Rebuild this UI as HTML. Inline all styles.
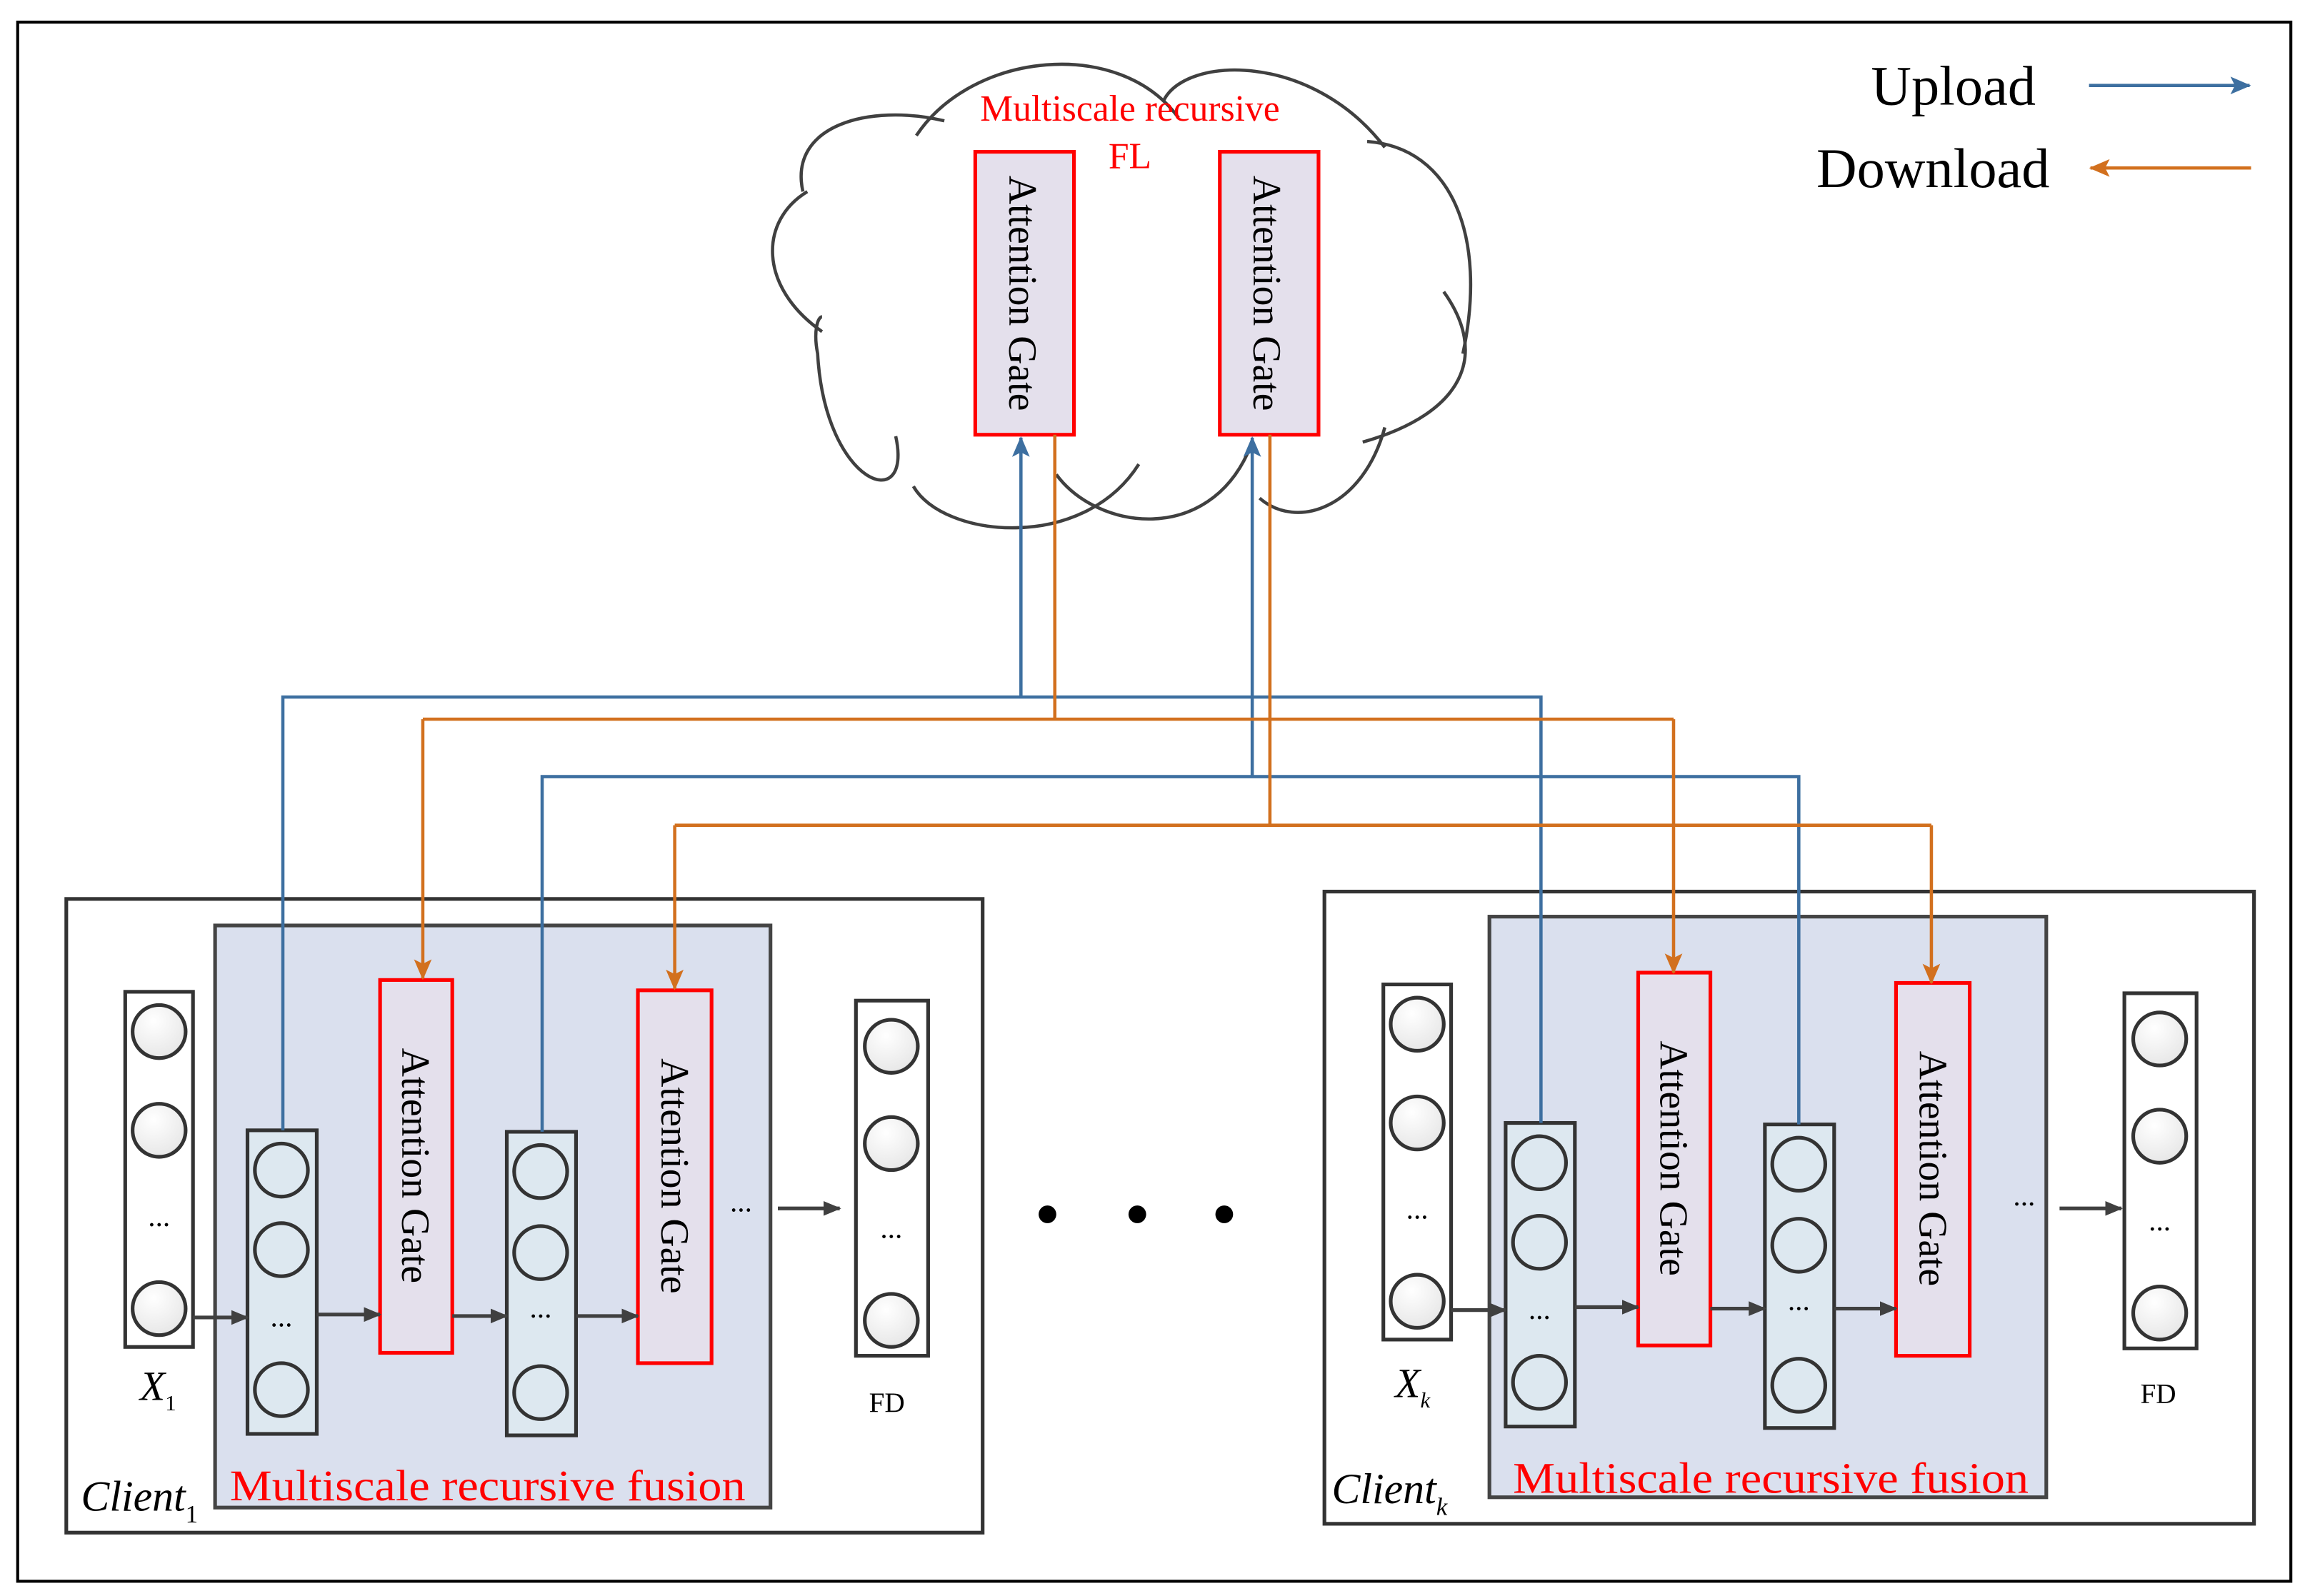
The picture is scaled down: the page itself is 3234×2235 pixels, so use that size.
<!DOCTYPE html>
<html><head><meta charset="utf-8"><style>
html,body{margin:0;padding:0;background:#fff}
svg{display:block}
text{font-family:"Liberation Serif",serif}
</style></head><body>
<svg width="3234" height="2235" viewBox="0 0 1568 1083" preserveAspectRatio="none" xmlns="http://www.w3.org/2000/svg">
<defs>
<marker id="ab" markerWidth="14" markerHeight="12" refX="13" refY="6" orient="auto" markerUnits="userSpaceOnUse"><path d="M0,0 L14,6 L0,12 L3,6 Z" fill="#3d6fa0"/></marker>
<marker id="ao" markerWidth="14" markerHeight="12" refX="13" refY="6" orient="auto" markerUnits="userSpaceOnUse"><path d="M0,0 L14,6 L0,12 L3,6 Z" fill="#d2701e"/></marker>
<marker id="ak" markerWidth="12" markerHeight="12" refX="11" refY="6" orient="auto" markerUnits="userSpaceOnUse"><path d="M0,1 L12,6 L0,11 Z" fill="#404040"/></marker>
<radialGradient id="cg" cx="0.4" cy="0.3" r="0.8"><stop offset="0" stop-color="#fff"/><stop offset="1" stop-color="#e4e4e4"/></radialGradient>
<g id="client">
  <rect x="85" y="673" width="46" height="241" fill="#fff" stroke="#333" stroke-width="2.5"/>
  <circle cx="108" cy="700" r="18" fill="url(#cg)" stroke="#333" stroke-width="2.5"/>
  <circle cx="108" cy="767" r="18" fill="url(#cg)" stroke="#333" stroke-width="2.5"/>
  <circle cx="108" cy="888" r="18" fill="url(#cg)" stroke="#333" stroke-width="2.5"/>
  <text x="108" y="832" font-size="20" text-anchor="middle">...</text>
  <rect x="168" y="767" width="47" height="206" fill="#dde8f0" stroke="#333" stroke-width="2.5"/>
  <circle cx="191" cy="794" r="18" fill="#dde8f0" stroke="#333" stroke-width="2.5"/>
  <circle cx="191" cy="848" r="18" fill="#dde8f0" stroke="#333" stroke-width="2.5"/>
  <circle cx="191" cy="943" r="18" fill="#dde8f0" stroke="#333" stroke-width="2.5"/>
  <text x="191" y="900" font-size="20" text-anchor="middle">...</text>
  <rect x="258" y="665" width="49" height="253" fill="#e4e0ec" stroke="#f00" stroke-width="2.5"/>
  <text transform="translate(273,791) rotate(90)" font-size="27" text-anchor="middle">Attention Gate</text>
  <rect x="344" y="768" width="47" height="206" fill="#dde8f0" stroke="#333" stroke-width="2.5"/>
  <circle cx="367" cy="795" r="18" fill="#dde8f0" stroke="#333" stroke-width="2.5"/>
  <circle cx="367" cy="850" r="18" fill="#dde8f0" stroke="#333" stroke-width="2.5"/>
  <circle cx="367" cy="945" r="18" fill="#dde8f0" stroke="#333" stroke-width="2.5"/>
  <text x="367" y="894" font-size="20" text-anchor="middle">...</text>
  <rect x="433" y="672" width="50" height="253" fill="#e4e0ec" stroke="#f00" stroke-width="2.5"/>
  <text transform="translate(449,798) rotate(90)" font-size="27" text-anchor="middle">Attention Gate</text>
  <line x1="131" y1="894" x2="168" y2="894" stroke="#404040" stroke-width="2.5" marker-end="url(#ak)"/>
  <line x1="215" y1="892" x2="258" y2="892" stroke="#404040" stroke-width="2.5" marker-end="url(#ak)"/>
  <line x1="307" y1="893" x2="344" y2="893" stroke="#404040" stroke-width="2.5" marker-end="url(#ak)"/>
  <line x1="391" y1="893" x2="433" y2="893" stroke="#404040" stroke-width="2.5" marker-end="url(#ak)"/>
</g>
<g id="fd">
  <rect x="0" y="0" width="49" height="241" fill="#fff" stroke="#333" stroke-width="2.5"/>
  <circle cx="24" cy="31" r="18" fill="url(#cg)" stroke="#333" stroke-width="2.5"/>
  <circle cx="24" cy="97" r="18" fill="url(#cg)" stroke="#333" stroke-width="2.5"/>
  <circle cx="24" cy="217" r="18" fill="url(#cg)" stroke="#333" stroke-width="2.5"/>
  <text x="24" y="161" font-size="20" text-anchor="middle">...</text>
</g>
</defs>
<rect x="12" y="15" width="1543" height="1058" fill="#fff" stroke="#000" stroke-width="2"/>

<!-- left client -->
<rect x="45" y="610" width="622" height="430" fill="#fff" stroke="#333" stroke-width="2.5"/>
<rect x="146" y="628" width="377" height="395" fill="#dae0ee" stroke="#444" stroke-width="2.5"/>
<use href="#client"/>
<text x="503" y="822" font-size="20" text-anchor="middle">...</text>
<line x1="528" y1="820" x2="570" y2="820" stroke="#404040" stroke-width="2.5" marker-end="url(#ak)"/>
<g transform="translate(581,679)"><use href="#fd"/></g>
<text x="602" y="958" font-size="19" text-anchor="middle">FD</text>
<text x="156" y="1018" font-size="30" fill="#f00" textLength="350" lengthAdjust="spacingAndGlyphs">Multiscale recursive fusion</text>
<text x="55" y="1025" font-size="29" font-style="italic">Client<tspan font-size="17" font-style="normal" dy="8">1</tspan></text>
<text x="95" y="950" font-size="28" font-style="italic">X<tspan font-size="15" font-style="normal" dy="7">1</tspan></text>

<!-- right client -->
<rect x="899" y="605" width="631" height="429" fill="#fff" stroke="#333" stroke-width="2.5"/>
<rect x="1011" y="622" width="378" height="394" fill="#dae0ee" stroke="#444" stroke-width="2.5"/>
<g transform="translate(854,-5)"><use href="#client"/></g>
<text x="1374" y="818" font-size="20" text-anchor="middle">...</text>
<line x1="1398" y1="820" x2="1440" y2="820" stroke="#404040" stroke-width="2.5" marker-end="url(#ak)"/>
<g transform="translate(1442,674)"><use href="#fd"/></g>
<text x="1465" y="952" font-size="19" text-anchor="middle">FD</text>
<text x="1027" y="1013" font-size="30" fill="#f00" textLength="350" lengthAdjust="spacingAndGlyphs">Multiscale recursive fusion</text>
<text x="904" y="1020" font-size="29" font-style="italic">Client<tspan font-size="17" dy="8">k</tspan></text>
<text x="947" y="948" font-size="28" font-style="italic">X<tspan font-size="15" dy="7">k</tspan></text>

<circle cx="711" cy="824" r="6" fill="#000"/>
<circle cx="772" cy="824" r="6" fill="#000"/>
<circle cx="831" cy="824" r="6" fill="#000"/>

<!-- cloud -->
<g fill="none" stroke="#404040" stroke-width="2.2">
<path d="M545,130 C535,85 590,70 641,82"/>
<path d="M622,92 C660,35 760,25 800,80"/>
<path d="M790,68 C805,38 890,35 940,100"/>
<path d="M928,96 C985,100 1010,160 993,240"/>
<path d="M980,198 C1010,240 995,280 925,300"/>
<path d="M940,290 C925,345 880,360 855,338"/>
<path d="M848,305 C820,370 745,360 717,322"/>
<path d="M773,315 C735,375 640,365 620,330"/>
<path d="M608,296 C620,350 560,330 555,240 C552,225 555,215 558,215"/>
<path d="M558,225 C515,195 515,150 548,130"/>
</g>
<rect x="662" y="103" width="67" height="192" fill="#e4e0ec" stroke="#f00" stroke-width="2.5"/>
<text transform="translate(685,199) rotate(90)" font-size="27" text-anchor="middle">Attention Gate</text>
<rect x="828" y="103" width="67" height="192" fill="#e4e0ec" stroke="#f00" stroke-width="2.5"/>
<text transform="translate(851,199) rotate(90)" font-size="27" text-anchor="middle">Attention Gate</text>
<text x="767" y="82" font-size="25" fill="#f00" text-anchor="middle">Multiscale recursive</text>
<text x="767" y="114" font-size="25" fill="#f00" text-anchor="middle">FL</text>

<!-- connectors -->
<g fill="none" stroke-width="2.2">
<polyline points="192,767 192,473 1046,473 1046,762" stroke="#3d6fa0"/>
<line x1="693" y1="473" x2="693" y2="297" stroke="#3d6fa0" marker-end="url(#ab)"/>
<polyline points="368,768 368,527 1221,527 1221,763" stroke="#3d6fa0"/>
<line x1="850" y1="527" x2="850" y2="297" stroke="#3d6fa0" marker-end="url(#ab)"/>
<line x1="716" y1="295" x2="716" y2="488" stroke="#d2701e"/>
<polyline points="287,488 1136,488" stroke="#d2701e"/>
<line x1="287" y1="488" x2="287" y2="664" stroke="#d2701e" marker-end="url(#ao)"/>
<line x1="1136" y1="488" x2="1136" y2="660" stroke="#d2701e" marker-end="url(#ao)"/>
<line x1="862" y1="295" x2="862" y2="560" stroke="#d2701e"/>
<polyline points="458,560 1311,560" stroke="#d2701e"/>
<line x1="458" y1="560" x2="458" y2="671" stroke="#d2701e" marker-end="url(#ao)"/>
<line x1="1311" y1="560" x2="1311" y2="667" stroke="#d2701e" marker-end="url(#ao)"/>
</g>

<!-- legend -->
<text x="1270" y="71" font-size="38">Upload</text>
<line x1="1418" y1="58" x2="1527" y2="58" stroke="#3d6fa0" stroke-width="2.2" marker-end="url(#ab)"/>
<text x="1233" y="127" font-size="38">Download</text>
<line x1="1528" y1="114" x2="1419" y2="114" stroke="#d2701e" stroke-width="2.2" marker-end="url(#ao)"/>
</svg>
</body></html>
